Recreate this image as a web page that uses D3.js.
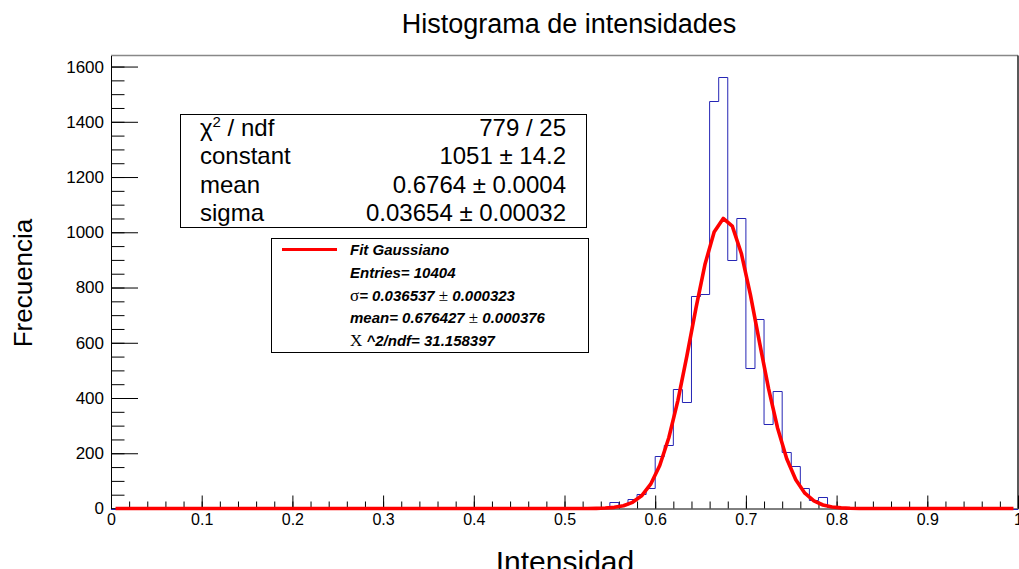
<!DOCTYPE html>
<html>
<head>
<meta charset="utf-8">
<script src="https://cdn.jsdelivr.net/npm/d3@7"></script>
<style>
  body { margin: 0; background: #fff; }
  svg { display: block; font-family: "Liberation Sans", Arial, Helvetica, sans-serif; }
</style>
</head>
<body>
<div id="chart"></div>
<script>
// histogram bins (left edge, width 0.01) and counts
const binLeft = [0.53, 0.54, 0.55, 0.56, 0.57, 0.58, 0.59, 0.60, 0.61, 0.62,
                 0.63, 0.64, 0.65, 0.66, 0.67, 0.68, 0.69, 0.70, 0.71, 0.72,
                 0.73, 0.74, 0.75, 0.76, 0.77, 0.78, 0.79, 0.80];
const counts = [1, 3, 22, 12, 33, 52, 75, 189, 231, 433,
                386, 770, 776, 1477, 1561, 898, 1050, 509, 687, 306,
                424, 203, 154, 75, 31, 40, 5, 2];
const binWidth = 0.01;

// gaussian fit parameters: constant, mean, sigma
const fitParams = [1051, 0.6764, 0.03654];

const xMajor = [0, 0.1, 0.2, 0.3, 0.4, 0.5, 0.6, 0.7, 0.8, 0.9, 1];
const xLabels = ["0", "0.1", "0.2", "0.3", "0.4", "0.5", "0.6", "0.7", "0.8", "0.9", "1"];
const yMajor = [0, 200, 400, 600, 800, 1000, 1200, 1400, 1600];

const statsLabels = ["ndf", "constant", "mean", "sigma"];
const statsValues = ["779 / 25", "1051 \u00b1 14.2", "0.6764 \u00b1 0.0004", "0.03654 \u00b1 0.00032"];

const legendLines = [
    ["", "Fit Gaussiano"],
    ["", "Entries= 10404"],
    ["\u03c3", "= 0.036537  ", "\u00b1", " 0.000323"],
    ["", "mean= 0.676427  ", "\u00b1", " 0.000376"],
    ["\u03a7", " ^2/ndf= 31.158397"]
];

window.onload = function() {
    const W = 1019, H = 569;
    const frame = { left: 111, right: 1018, top: 55.5, bottom: 508.5 };

    const svg = d3.select("#chart").append("svg")
        .attr("width", W)
        .attr("height", H);

    const x = d3.scaleLinear().domain([0, 1]).range([frame.left, frame.right]);
    const y = d3.scaleLinear().domain([0, 1640]).range([frame.bottom, frame.top]);

    // Title
    svg.append("text")
        .attr("x", 569)
        .attr("y", 33)
        .attr("text-anchor", "middle")
        .style("font-size", "27px")
        .text("Histograma de intensidades");

    // frame
    svg.append("line")
        .attr("x1", frame.left).attr("x2", frame.right)
        .attr("y1", frame.top).attr("y2", frame.top)
        .attr("stroke", "#888").attr("stroke-width", 1.5);
    svg.append("line")
        .attr("x1", frame.right).attr("x2", frame.right)
        .attr("y1", frame.top).attr("y2", frame.bottom)
        .attr("stroke", "#222").attr("stroke-width", 1.5);

    // X axis: minor + major ticks (inside)
    const xMinor = d3.range(0, 1.0001, 0.02);
    svg.append("g")
        .attr("transform", `translate(0,${frame.bottom})`)
        .call(d3.axisBottom(x).tickValues(xMinor).tickSize(-7).tickSizeOuter(0).tickFormat(""))
        .call(g => g.select(".domain").remove());
    const xAxis = svg.append("g")
        .attr("transform", `translate(0,${frame.bottom})`)
        .call(d3.axisBottom(x).tickValues(xMajor).tickSize(-13).tickSizeOuter(0)
            .tickPadding(5).tickFormat((d, i) => xLabels[i]));
    xAxis.selectAll("text").attr("font-size", null).style("font-size", "16px").attr("fill", "#000");
    xAxis.select(".domain").attr("stroke", "#000");

    // Y axis
    const yMinor = d3.range(0, 1641, 50);
    svg.append("g")
        .attr("transform", `translate(${frame.left},0)`)
        .call(d3.axisLeft(y).tickValues(yMinor).tickSize(-13.5).tickSizeOuter(0).tickFormat(""))
        .call(g => g.select(".domain").remove());
    const yAxis = svg.append("g")
        .attr("transform", `translate(${frame.left},0)`)
        .call(d3.axisLeft(y).tickValues(yMajor).tickSize(-27).tickSizeOuter(0)
            .tickPadding(7).tickFormat(d3.format("d")));
    yAxis.selectAll("text").attr("font-size", null).style("font-size", "17px").attr("fill", "#000");

    // Axis titles
    svg.append("text")
        .attr("transform", "translate(32,283) rotate(-90)")
        .attr("text-anchor", "middle")
        .style("font-size", "26px")
        .text("Frecuencia");
    svg.append("text")
        .attr("x", 565)
        .attr("y", 572)
        .attr("text-anchor", "middle")
        .style("font-size", "30px")
        .text("Intensidad");

    // Histogram outline
    const histPts = [[0, 0], [binLeft[0], 0]];
    binLeft.forEach((b, i) => {
        histPts.push([b, counts[i]]);
        histPts.push([b + binWidth, counts[i]]);
    });
    histPts.push([binLeft[binLeft.length - 1] + binWidth, 0]);
    histPts.push([1, 0]);
    svg.append("path")
        .datum(histPts)
        .attr("fill", "none")
        .attr("stroke", "#2525b5")
        .attr("stroke-width", 1)
        .attr("d", d3.line().x(d => x(d[0])).y(d => Math.round(y(d[1])) + 0.5));

    // Gaussian fit curve, sampled at bin centres
    const [amp, mu, sig] = fitParams;
    const fitPts = d3.range(100).map(i => {
        const xv = (i + 0.5) * binWidth;
        return [xv, amp * Math.exp(-0.5 * ((xv - mu) / sig) ** 2)];
    });
    svg.append("path")
        .datum(fitPts)
        .attr("fill", "none")
        .attr("stroke", "#ff0000")
        .attr("stroke-width", 3.6)
        .attr("stroke-linejoin", "round")
        .attr("d", d3.line().x(d => x(d[0])).y(d => y(d[1])));

    // Stats box
    const sb = { x: 180, y: 114, w: 406, h: 113 };
    svg.append("rect")
        .attr("x", sb.x + 0.5).attr("y", sb.y + 0.5)
        .attr("width", sb.w).attr("height", sb.h)
        .attr("fill", "#fff").attr("stroke", "#000").attr("stroke-width", 1);
    const rowH = sb.h / statsLabels.length;
    statsLabels.forEach((lab, i) => {
        const by = sb.y + rowH * (i + 0.5) + 8;
        const t = svg.append("text")
            .attr("x", 200).attr("y", by)
            .style("font-size", "24px");
        if (i === 0) {
            t.append("tspan").text("\u03c7");
            t.append("tspan").attr("dy", -9).style("font-size", "15px").text("2");
            t.append("tspan").attr("dy", 9).text(" / " + lab);
        } else {
            t.text(lab);
        }
        svg.append("text")
            .attr("x", 566).attr("y", by)
            .attr("text-anchor", "end")
            .style("font-size", "24px")
            .text(statsValues[i]);
    });

    // Legend box
    const lb = { x: 271, y: 238, w: 317, h: 114 };
    svg.append("rect")
        .attr("x", lb.x + 0.5).attr("y", lb.y + 0.5)
        .attr("width", lb.w).attr("height", lb.h)
        .attr("fill", "#fff").attr("stroke", "#000").attr("stroke-width", 1);
    const lrow = lb.h / legendLines.length;
    svg.append("line")
        .attr("x1", 282).attr("x2", 337)
        .attr("y1", lb.y + lrow * 0.5).attr("y2", lb.y + lrow * 0.5)
        .attr("stroke", "#ff0000").attr("stroke-width", 3);
    legendLines.forEach((parts, i) => {
        const t = svg.append("text")
            .attr("x", 350)
            .attr("y", lb.y + lrow * (i + 0.5) + 5.5)
            .style("font-size", "15px");
        parts.forEach((p, j) => {
            if (!p) return;
            const symbol = (p === "\u03c3" || p === "\u00b1" || p === "\u03a7");
            t.append("tspan")
                .style("font-family", symbol ? "'Liberation Serif', 'DejaVu Serif', serif" : null)
                .style("font-size", symbol ? "17px" : null)
                .style("font-weight", symbol ? "normal" : "bold")
                .style("font-style", symbol ? "normal" : "italic")
                .text(p);
        });
    });
};
</script>
</body>
</html>
